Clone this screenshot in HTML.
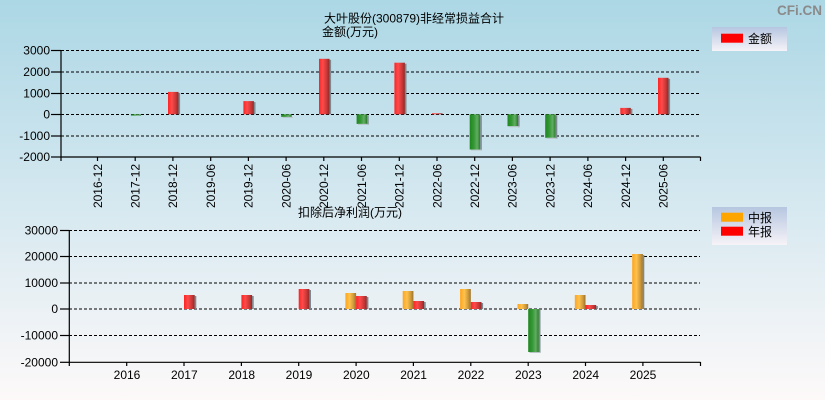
<!DOCTYPE html>
<html><head><meta charset="utf-8"><style>
html,body{margin:0;padding:0;}
body{width:825px;height:400px;overflow:hidden;}
svg{display:block;font-family:"Liberation Sans","Noto Sans CJK SC",sans-serif;}
</style></head><body>
<svg width="825" height="400" viewBox="0 0 825 400" xmlns="http://www.w3.org/2000/svg">
<defs>
<linearGradient id="bg" x1="0" y1="0" x2="0" y2="1">
<stop offset="0" stop-color="#acd7e5"/><stop offset="0.5" stop-color="#d5e8f0"/><stop offset="1" stop-color="#fdf9f9"/>
</linearGradient>
<linearGradient id="lg" x1="0" y1="0" x2="0" y2="1">
<stop offset="0" stop-color="#b6c6e0"/><stop offset="1" stop-color="#f6f3f8"/>
</linearGradient>
<linearGradient id="red" x1="0" y1="0" x2="1" y2="0">
<stop offset="0" stop-color="#ff2222"/><stop offset="0.35" stop-color="#ff4b4b"/><stop offset="0.75" stop-color="#c83636"/><stop offset="1" stop-color="#8a2a2a"/>
</linearGradient>
<linearGradient id="grn" x1="0" y1="0" x2="1" y2="0">
<stop offset="0" stop-color="#1f861f"/><stop offset="0.4" stop-color="#359835"/><stop offset="0.7" stop-color="#62ad62"/><stop offset="1" stop-color="#2a7a2a"/>
</linearGradient>
<linearGradient id="org" x1="0" y1="0" x2="1" y2="0">
<stop offset="0" stop-color="#ffa41c"/><stop offset="0.4" stop-color="#ffc24e"/><stop offset="0.75" stop-color="#d09a3a"/><stop offset="1" stop-color="#9a7430"/>
</linearGradient>
</defs>
<rect x="0" y="0" width="825" height="400" fill="url(#bg)"/>

<text x="777" y="15" font-size="14" font-weight="bold" fill="#8a8a8a" textLength="45" lengthAdjust="spacingAndGlyphs">CFi.CN</text>

<!-- top chart titles -->
<text x="324" y="22.5" font-size="12" fill="#000">大叶股份(300879)非经常损益合计</text>
<text x="322" y="36" font-size="12" fill="#000">金额(万元)</text>

<!-- top legend -->
<rect x="712" y="27" width="75" height="24" fill="url(#lg)"/>
<rect x="721" y="33.7" width="22" height="9" fill="#ff0000"/>
<text x="748" y="43" font-size="12" fill="#000">金额</text>

<!-- top grid -->
<g stroke="#000" stroke-width="1" stroke-dasharray="3,2">
<line x1="61" y1="50.5" x2="700" y2="50.5"/>
<line x1="61" y1="72" x2="700" y2="72"/>
<line x1="61" y1="93.5" x2="700" y2="93.5"/>
<line x1="61" y1="114.5" x2="700" y2="114.5"/>
<line x1="61" y1="136" x2="700" y2="136"/>
</g>

<!-- top bars -->
<g>
<rect x="130.9" y="114.3" width="10" height="1.3" fill="url(#grn)"/>
<rect x="178.5" y="92.9" width="1.6" height="21.4" fill="#7a8a90"/><rect x="168" y="91.9" width="10.5" height="22.4" fill="url(#red)"/>
<rect x="253.9" y="102.1" width="1.6" height="12.2" fill="#7a8a90"/><rect x="243.4" y="101.1" width="10.5" height="13.2" fill="url(#red)"/>
<rect x="281.2" y="114.3" width="10.5" height="2.6" fill="url(#grn)"/><rect x="282.5" y="116.9" width="10.5" height="1" fill="#b8c4c8"/>
<rect x="329.5" y="59.8" width="1.6" height="54.5" fill="#7a8a90"/><rect x="319" y="58.8" width="10.5" height="55.5" fill="url(#red)"/>
<rect x="356.6" y="114.3" width="10.5" height="9.6" fill="url(#grn)"/><rect x="367.1" y="115.3" width="1.6" height="9.6" fill="#7a8a90"/><rect x="358" y="123.9" width="10.5" height="1" fill="#b8c4c8"/>
<rect x="404.9" y="63.7" width="1.6" height="50.6" fill="#7a8a90"/><rect x="394.4" y="62.7" width="10.5" height="51.6" fill="url(#red)"/>
<rect x="432" y="113.3" width="10.5" height="1" fill="url(#red)"/>
<rect x="469.7" y="114.3" width="10.5" height="35.2" fill="url(#grn)"/><rect x="480.2" y="115.3" width="1.6" height="35.2" fill="#7a8a90"/><rect x="471" y="149.5" width="10.5" height="1" fill="#b8c4c8"/>
<rect x="507.5" y="114.3" width="10.5" height="11.9" fill="url(#grn)"/><rect x="518" y="115.3" width="1.6" height="11.9" fill="#7a8a90"/><rect x="509" y="126.2" width="10.5" height="1" fill="#b8c4c8"/>
<rect x="545.2" y="114.3" width="10.5" height="23.5" fill="url(#grn)"/><rect x="555.7" y="115.3" width="1.6" height="23.5" fill="#7a8a90"/><rect x="546.5" y="137.8" width="10.5" height="1" fill="#b8c4c8"/>
<rect x="630.8" y="108.9" width="1.6" height="5.4" fill="#7a8a90"/><rect x="620.3" y="107.9" width="10.5" height="6.4" fill="url(#red)"/>
<rect x="668.5" y="78.8" width="1.6" height="35.5" fill="#7a8a90"/><rect x="658" y="77.8" width="10.5" height="36.5" fill="url(#red)"/>
</g>

<!-- top axes -->
<g stroke="#000" stroke-width="1.2" fill="none">
<line x1="61" y1="50" x2="61" y2="157"/>
<line x1="61" y1="157" x2="700.5" y2="157"/>
<line x1="51" y1="50.5" x2="61" y2="50.5"/>
<line x1="51" y1="72" x2="61" y2="72"/>
<line x1="51" y1="93.5" x2="61" y2="93.5"/>
<line x1="51" y1="114.5" x2="61" y2="114.5"/>
<line x1="51" y1="136" x2="61" y2="136"/>
<line x1="51" y1="157" x2="61" y2="157"/>
<line x1="61" y1="157" x2="61" y2="161"/>
<line x1="97.5" y1="157" x2="97.5" y2="161"/>
<line x1="135.2" y1="157" x2="135.2" y2="161"/>
<line x1="172.9" y1="157" x2="172.9" y2="161"/>
<line x1="210.7" y1="157" x2="210.7" y2="161"/>
<line x1="248.4" y1="157" x2="248.4" y2="161"/>
<line x1="286.1" y1="157" x2="286.1" y2="161"/>
<line x1="323.8" y1="157" x2="323.8" y2="161"/>
<line x1="361.5" y1="157" x2="361.5" y2="161"/>
<line x1="399.3" y1="157" x2="399.3" y2="161"/>
<line x1="437" y1="157" x2="437" y2="161"/>
<line x1="474.7" y1="157" x2="474.7" y2="161"/>
<line x1="512.4" y1="157" x2="512.4" y2="161"/>
<line x1="550.1" y1="157" x2="550.1" y2="161"/>
<line x1="587.9" y1="157" x2="587.9" y2="161"/>
<line x1="625.6" y1="157" x2="625.6" y2="161"/>
<line x1="663.3" y1="157" x2="663.3" y2="161"/>
<line x1="700.5" y1="157" x2="700.5" y2="161"/>
</g>
<g font-size="12" fill="#000" text-anchor="end">
<text x="50" y="54.5">3000</text>
<text x="50" y="76">2000</text>
<text x="50" y="97.5">1000</text>
<text x="50" y="118.5">0</text>
<text x="50" y="140">-1000</text>
<text x="50" y="161">-2000</text>
</g>
<g font-size="12" fill="#000" text-anchor="end">
<text transform="translate(101.8,164) rotate(-90)">2016-12</text>
<text transform="translate(139.5,164) rotate(-90)">2017-12</text>
<text transform="translate(177.2,164) rotate(-90)">2018-12</text>
<text transform="translate(215,164) rotate(-90)">2019-06</text>
<text transform="translate(252.7,164) rotate(-90)">2019-12</text>
<text transform="translate(290.4,164) rotate(-90)">2020-06</text>
<text transform="translate(328.1,164) rotate(-90)">2020-12</text>
<text transform="translate(365.8,164) rotate(-90)">2021-06</text>
<text transform="translate(403.6,164) rotate(-90)">2021-12</text>
<text transform="translate(441.3,164) rotate(-90)">2022-06</text>
<text transform="translate(479,164) rotate(-90)">2022-12</text>
<text transform="translate(516.7,164) rotate(-90)">2023-06</text>
<text transform="translate(554.4,164) rotate(-90)">2023-12</text>
<text transform="translate(592.2,164) rotate(-90)">2024-06</text>
<text transform="translate(629.9,164) rotate(-90)">2024-12</text>
<text transform="translate(667.6,164) rotate(-90)">2025-06</text>
</g>

<!-- bottom chart -->
<text x="298" y="216.5" font-size="12" fill="#000">扣除后净利润(万元)</text>

<rect x="712" y="207" width="75" height="38" fill="url(#lg)"/>
<rect x="721" y="212.7" width="22" height="9" fill="#ffa500"/>
<rect x="721" y="226.7" width="22" height="9" fill="#ff0000"/>
<text x="748" y="222" font-size="12" fill="#000">中报</text>
<text x="748" y="236" font-size="12" fill="#000">年报</text>

<g stroke="#000" stroke-width="1" stroke-dasharray="3,2">
<line x1="69" y1="230.5" x2="700" y2="230.5"/>
<line x1="69" y1="256.5" x2="700" y2="256.5"/>
<line x1="69" y1="283" x2="700" y2="283"/>
<line x1="69" y1="309" x2="700" y2="309"/>
<line x1="69" y1="335.5" x2="700" y2="335.5"/>
</g>

<g>
<rect x="194.7" y="296" width="1.6" height="13" fill="#7a8a90"/><rect x="184" y="295" width="10.7" height="14" fill="url(#red)"/>
<rect x="252.1" y="296" width="1.6" height="13" fill="#7a8a90"/><rect x="241.4" y="295" width="10.7" height="14" fill="url(#red)"/>
<rect x="309.4" y="290" width="1.6" height="19" fill="#7a8a90"/><rect x="298.7" y="289" width="10.7" height="20" fill="url(#red)"/>
<rect x="345.4" y="293" width="10.7" height="16" fill="url(#org)"/>
<rect x="366.8" y="297" width="1.6" height="12" fill="#7a8a90"/><rect x="356.1" y="296" width="10.7" height="13" fill="url(#red)"/>
<rect x="402.7" y="291" width="10.7" height="18" fill="url(#org)"/>
<rect x="424.1" y="302" width="1.6" height="7" fill="#7a8a90"/><rect x="413.4" y="301" width="10.7" height="8" fill="url(#red)"/>
<rect x="460.1" y="289" width="10.7" height="20" fill="url(#org)"/>
<rect x="481.5" y="303" width="1.6" height="6" fill="#7a8a90"/><rect x="470.8" y="302" width="10.7" height="7" fill="url(#red)"/>
<rect x="517.5" y="304" width="10.7" height="5" fill="url(#org)"/>
<rect x="528.2" y="309" width="10.7" height="43" fill="url(#grn)"/><rect x="538.9" y="310" width="1.6" height="43" fill="#7a8a90"/><rect x="529.5" y="352" width="10.7" height="1" fill="#b8c4c8"/>
<rect x="574.8" y="295" width="10.7" height="14" fill="url(#org)"/>
<rect x="596.2" y="306" width="1.6" height="3" fill="#7a8a90"/><rect x="585.5" y="305" width="10.7" height="4" fill="url(#red)"/>
<rect x="632.2" y="254" width="10.7" height="55" fill="url(#org)"/><rect x="642.9" y="255" width="1.4" height="54" fill="#7a8a90"/>
</g>

<g stroke="#000" stroke-width="1.2" fill="none">
<line x1="69.3" y1="230" x2="69.3" y2="362.3"/>
<line x1="69.3" y1="362.3" x2="700.5" y2="362.3"/>
<line x1="60" y1="230.5" x2="69.3" y2="230.5"/>
<line x1="60" y1="256.5" x2="69.3" y2="256.5"/>
<line x1="60" y1="283" x2="69.3" y2="283"/>
<line x1="60" y1="309" x2="69.3" y2="309"/>
<line x1="60" y1="335.5" x2="69.3" y2="335.5"/>
<line x1="60" y1="362.3" x2="69.3" y2="362.3"/>
<line x1="69.3" y1="362" x2="69.3" y2="366"/>
<line x1="126.7" y1="362" x2="126.7" y2="366"/>
<line x1="184" y1="362" x2="184" y2="366"/>
<line x1="241.4" y1="362" x2="241.4" y2="366"/>
<line x1="298.7" y1="362" x2="298.7" y2="366"/>
<line x1="356.1" y1="362" x2="356.1" y2="366"/>
<line x1="413.4" y1="362" x2="413.4" y2="366"/>
<line x1="470.8" y1="362" x2="470.8" y2="366"/>
<line x1="528.2" y1="362" x2="528.2" y2="366"/>
<line x1="585.5" y1="362" x2="585.5" y2="366"/>
<line x1="642.9" y1="362" x2="642.9" y2="366"/>
<line x1="700.5" y1="362" x2="700.5" y2="366"/>
</g>
<g font-size="12" fill="#000" text-anchor="end">
<text x="58" y="234.5">30000</text>
<text x="58" y="260.5">20000</text>
<text x="58" y="287">10000</text>
<text x="58" y="313">0</text>
<text x="58" y="339.5">-10000</text>
<text x="58" y="366.3">-20000</text>
</g>
<g font-size="12" fill="#000" text-anchor="middle">
<text x="127" y="379">2016</text>
<text x="184.3" y="379">2017</text>
<text x="241.7" y="379">2018</text>
<text x="299" y="379">2019</text>
<text x="356.3" y="379">2020</text>
<text x="413.6" y="379">2021</text>
<text x="471" y="379">2022</text>
<text x="528.3" y="379">2023</text>
<text x="585.7" y="379">2024</text>
<text x="643" y="379">2025</text>
</g>
</svg>
</body></html>
